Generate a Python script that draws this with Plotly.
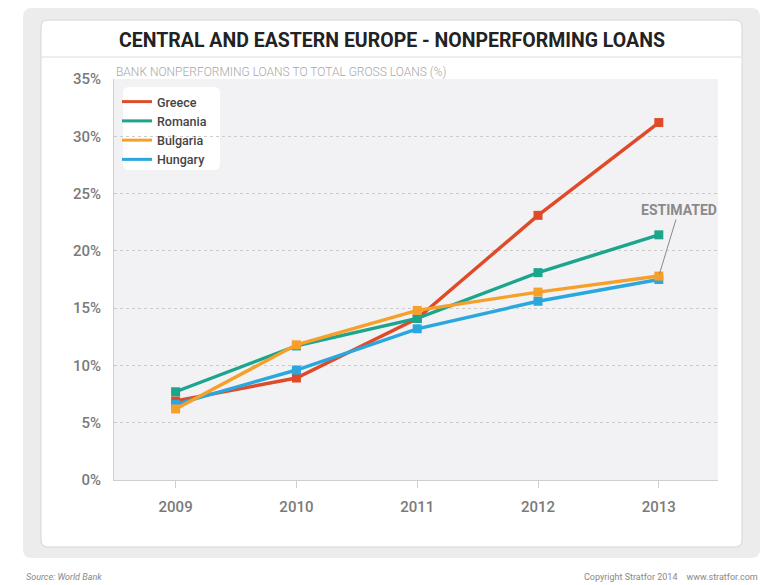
import plotly.graph_objects as go

years = ["2009", "2010", "2011", "2012", "2013"]
greece = [6.9, 8.9, 14.1, 23.1, 31.2]
romania = [7.7, 11.7, 14.1, 18.1, 21.4]
bulgaria = [6.2, 11.8, 14.8, 16.4, 17.8]
hungary = [6.6, 9.6, 13.2, 15.6, 17.5]
y_ticks = [0, 5, 10, 15, 20, 25, 30, 35]
y_tick_labels = [f"{v}%" for v in y_ticks]

series = [
    ("Greece", greece, "#df4a29"),
    ("Romania", romania, "#1ba58d"),
    ("Hungary", hungary, "#2aa7df"),
    ("Bulgaria", bulgaria, "#f6a02b"),
]
legend_order = ["Greece", "Romania", "Bulgaria", "Hungary"]
colors = {n: c for n, _, c in series}

W, H = 784, 585
L, R, T, B = 114, 718, 79, 480
PW, PH = R - L, B - T

def px(x):
    return (x - L) / PW

def py(y):
    return (B - y) / PH

def rrect(x0, y0, x1, y1, r):
    rx, ry = r / PW, r / PH
    X0, X1 = px(x0), px(x1)
    Y0, Y1 = py(y1), py(y0)
    return (f"M{X0+rx},{Y1} L{X1-rx},{Y1} Q{X1},{Y1} {X1},{Y1-ry} "
            f"L{X1},{Y0+ry} Q{X1},{Y0} {X1-rx},{Y0} L{X0+rx},{Y0} "
            f"Q{X0},{Y0} {X0},{Y0+ry} L{X0},{Y1-ry} Q{X0},{Y1} {X0+rx},{Y1} Z")

FONT = "Roboto, Liberation Sans, sans-serif"

fig = go.Figure()
for name, vals, col in series:
    fig.add_trace(go.Scatter(
        x=years, y=vals, mode="lines+markers", name=name, showlegend=False,
        line=dict(color=col, width=3.4),
        marker=dict(symbol="square", size=9, color=col),
        hoverinfo="x+y+name",
    ))
for name in legend_order:
    fig.add_trace(go.Scatter(
        x=[None], y=[None], mode="lines", name=name,
        line=dict(color=colors[name], width=3), showlegend=True,
    ))

shapes = [
    dict(type="path", xref="paper", yref="paper", path=rrect(23, 8, 760, 558, 9),
         fillcolor="#ececec", line=dict(width=0), layer="below"),
    dict(type="path", xref="paper", yref="paper", path=rrect(41, 20, 742, 547, 7),
         fillcolor="#ffffff", line=dict(color="#d6d6d6", width=1), layer="below"),
    dict(type="line", xref="paper", yref="paper", x0=px(42), x1=px(741), y0=py(57), y1=py(57),
         line=dict(color="#dcdcdc", width=1), layer="below"),
    dict(type="rect", xref="paper", yref="paper", x0=0, x1=1, y0=0, y1=1,
         fillcolor="#f2f2f4", line=dict(width=0), layer="below"),
    dict(type="path", xref="paper", yref="paper", path=rrect(123, 87, 220, 170, 6),
         fillcolor="#ffffff", line=dict(width=0), layer="below"),
]

annotations = [
    dict(text="<b>CENTRAL AND EASTERN EUROPE - NONPERFORMING LOANS</b>", xref="paper", yref="paper",
         x=px(392), y=py(41), xanchor="center", yanchor="middle", showarrow=False,
         font=dict(family=FONT, size=19.5, color="#222222")),
    dict(text="BANK NONPERFORMING LOANS TO TOTAL GROSS LOANS (%)", xref="paper", yref="paper",
         x=0, y=py(72), xanchor="left", yanchor="middle", showarrow=False,
         font=dict(family=FONT, size=12, color="#a8a8a8", weight=300)),
    dict(text="<i>Source: World Bank</i>", xref="paper", yref="paper",
         x=px(24), y=py(577), xanchor="left", yanchor="middle", showarrow=False,
         font=dict(family=FONT, size=9, color="#888888")),
    dict(text="Copyright Stratfor 2014    www.stratfor.com", xref="paper", yref="paper",
         x=px(760), y=py(577), xanchor="right", yanchor="middle", showarrow=False,
         font=dict(family=FONT, size=9, color="#888888")),
    dict(text="<b>ESTIMATED</b>", x=4, y=bulgaria[4], xref="x", yref="y",
         ax=20, ay=-66, showarrow=True, arrowhead=0, arrowwidth=1, arrowcolor="#888888",
         standoff=2, font=dict(family=FONT, size=14, color="#8a8a8a")),
]

fig.update_layout(
    width=W, height=H,
    margin=dict(l=L, r=W - R, t=T, b=H - B),
    paper_bgcolor="#ffffff", plot_bgcolor="rgba(0,0,0,0)",
    shapes=shapes, annotations=annotations,
    font=dict(family=FONT, color="#777777"),
    legend=dict(x=px(117), y=py(87), xanchor="left", yanchor="top", xref="paper", yref="paper",
                bgcolor="rgba(0,0,0,0)", borderwidth=0, itemwidth=30,
                font=dict(family=FONT, size=12.5, color="#444444", weight=500), tracegroupgap=0),
    xaxis=dict(type="category", range=[-0.51, 4.49], showgrid=False, zeroline=False,
               showline=True, linecolor="#cfcfcf", linewidth=1,
               ticks="outside", ticklen=7, tickcolor="#cfcfcf",
               tickfont=dict(family=FONT, size=15, color="#7a7a7a", weight=500), ticklabelstandoff=6),
    yaxis=dict(range=[0, 35], tickvals=y_ticks, ticktext=y_tick_labels, showgrid=True,
               gridcolor="#cccccc", griddash="dot", gridwidth=1, zeroline=False,
               showline=True, linecolor="#cfcfcf", linewidth=1, ticks="",
               tickfont=dict(family=FONT, size=15, color="#7a7a7a", weight=500), ticklabelstandoff=9),
)

fig.write_html("out.html")
